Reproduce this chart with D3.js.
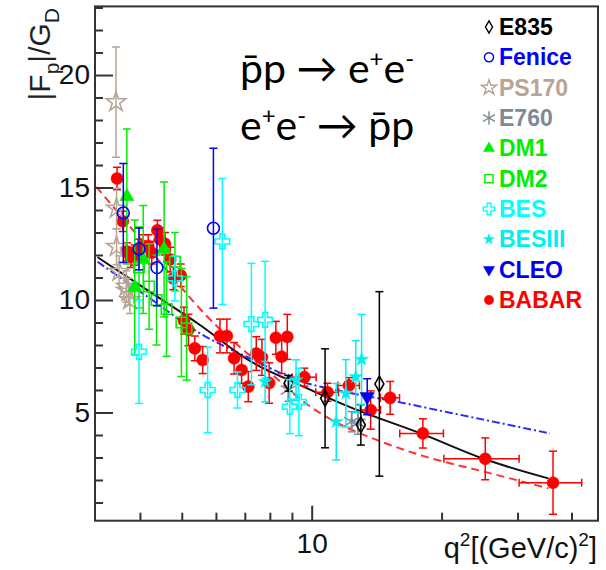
<!DOCTYPE html>
<html>
<head>
<meta charset="utf-8">
<script src="https://cdn.jsdelivr.net/npm/d3@7"></script>
<style>
  body { margin: 0; background: #fff; }
  svg { display: block; font-family: 'Liberation Sans', Arial, sans-serif; }
</style>
</head>
<body>
<div class="display"></div>
<script>
const width = 606;
const height = 570;
const margin = {top: 6.4, right: 8, bottom: 49.3, left: 95};

// points: [q2, |Fp|/GD, error]  (BABAR also has a q2 half-width)
const e835 = [[8.84, 6.3, 0.35], [10.74, 5.63, 2.2], [13.0, 4.45, 0.9], [14.35, 6.27, 4.1]];
const fenice = [[3.66, 13.87, 2.2], [3.98, 12.27, 0.93], [4.38, 11.44, 1.7], [5.92, 13.19, 3.55]];
const ps170 = [[3.52, 18.8, 2.45], [3.53, 14.07, 0.9], [3.53, 12.37, 0.8], [3.58, 11.26, 0.7], [3.72, 10.6, 0.7], [3.76, 10.37, 0.6], [3.79, 10.0, 0.6]];
const e760 = [[8.83, 6.0, 0.5], [12.38, 4.59, 0.45], [12.8, 4.53, 0.5]];
const dm1 = [[3.73, 14.6, 3.0], [3.89, 10.56, 3.0], [4.07, 11.8, 2.4], [4.55, 12.25, 3.0]];
const dm2 = [[3.98, 11.45, 1.8], [4.2, 10.6, 1.9], [4.37, 10.0, 2.0], [4.61, 9.6, 2.1], [4.82, 11.7, 1.3], [4.99, 9.0, 2.4], [5.13, 8.74, 2.3]];
const bes = [[3.98, 7.7, 2.3], [4.82, 10.96, 1.0], [5.74, 6.0, 1.9], [6.21, 12.6, 2.8], [6.73, 6.0, 0.8], [7.25, 8.93, 2.7], [7.8, 9.12, 2.6], [8.9, 5.26, 1.2], [9.34, 5.47, 1.5]];
const besiii = [[7.8, 6.37, 0.9], [9.2, 6.44, 0.9], [11.4, 4.59, 1.7], [12.0, 5.85, 1.5], [12.65, 6.59, 1.6], [13.05, 7.36, 2.0]];
const cleo = [[13.45, 5.7, 0.8]];
const babar = [
  [3.54, 15.4, 0.5, 0.02], [3.65, 13.5, 0.45, 0.03], [3.73, 12.15, 0.4, 0.03], [3.81, 11.9, 0.45, 0.03],
  [3.89, 12.0, 0.45, 0.03], [3.96, 12.2, 0.5, 0.03], [4.07, 12.4, 0.5, 0.04], [4.18, 12.4, 0.5, 0.04],
  [4.26, 12.1, 0.5, 0.04], [4.39, 13.1, 0.45, 0.05], [4.45, 12.7, 0.5, 0.05], [4.57, 12.5, 0.5, 0.05],
  [4.7, 11.8, 0.55, 0.05], [4.78, 10.96, 0.5, 0.05], [4.97, 11.1, 0.5, 0.06], [5.06, 9.08, 0.6, 0.06],
  [5.18, 8.67, 0.7, 0.08], [5.36, 7.85, 0.55, 0.1], [5.59, 7.33, 0.6, 0.1], [6.13, 8.4, 0.75, 0.12],
  [6.36, 8.4, 0.75, 0.12], [6.61, 7.41, 0.7, 0.13], [6.88, 6.89, 0.6, 0.13], [7.13, 6.15, 0.67, 0.13],
  [7.44, 7.62, 0.75, 0.14], [7.67, 7.45, 0.8, 0.14], [7.97, 6.31, 0.9, 0.14], [8.26, 8.32, 0.73, 0.15],
  [8.52, 7.48, 0.75, 0.15], [8.78, 8.36, 1.0, 0.15], [9.62, 6.57, 0.4, 0.62], [10.88, 5.9, 0.4, 0.66],
  [12.2, 6.2, 0.35, 0.7], [13.7, 5.11, 0.85, 0.74], [15.2, 5.65, 0.73, 0.78], [18.1, 4.07, 0.65, 2.1],
  [25.25, 2.94, 0.93, 5.0], [36.25, 1.88, 1.4, 6.0]
];

// fitted curves
const curveQ2 = {
  black: [3.19, 4.22, 5.51, 7.19, 9.4, 12.27, 18.07, 25.21, 35.35],
  red: [3.17, 4.22, 5.71, 8.22, 9.4, 11.84, 14.15, 18.11, 25.21, 35.35],
  blue: [3.19, 4.22, 5.51, 7.19, 9.4, 12.27, 16.02, 20.92, 27.32, 35.67]
};
const blackFit = [11.9, 10.36, 8.89, 7.29, 6.22, 5.24, 4.04, 2.92, 2.07];
const redFit = [15.03, 12.22, 9.29, 6.58, 5.6, 4.4, 3.78, 3.07, 2.36, 1.63];
const blueFit = [11.7, 10.07, 8.52, 7.41, 6.4, 5.87, 5.45, 4.99, 4.53, 4.07];

const xMajor = [10];
const xMinor = [4, 5, 6, 7, 8, 9, 20, 30, 40];
const yMajor = [5, 10, 15, 20];
const yMinor = d3.range(1, 24).filter(v => v % 5 !== 0);

const series = [
  {name: 'E835', color: '#000000', type: d3.symbolDiamond, size: 70, open: true, data: e835},
  {name: 'Fenice', color: '#0000ff', type: d3.symbolCircle, size: 110, open: true, data: fenice},
  {name: 'PS170', color: '#b8a494', type: d3.symbolStar, size: 120, open: true, data: ps170},
  {name: 'E760', color: '#7d8a98', type: d3.symbolAsterisk, size: 220, open: true, data: e760},
  {name: 'DM1', color: '#00ee00', type: d3.symbolTriangle, size: 90, open: false, data: dm1},
  {name: 'DM2', color: '#00ee00', type: d3.symbolSquare, size: 110, open: true, data: dm2},
  {name: 'BES', color: '#00ffff', type: d3.symbolCross, size: 120, open: true, data: bes},
  {name: 'BESIII', color: '#00f0f0', type: d3.symbolStar, size: 60, open: false, data: besiii},
  {name: 'CLEO', color: '#0000ee', type: d3.symbolTriangle, size: 90, open: false, flip: true, data: cleo},
  {name: 'BABAR', color: '#ff0000', type: d3.symbolCircle, size: 115, open: false, data: babar}
];

const svg = d3.select('.display')
  .append('svg')
  .attr('width', width)
  .attr('height', height);

const x = d3.scaleLog()
  .domain([3.147, 46.08])
  .range([margin.left, width - margin.right]);
const y = d3.scaleLinear()
  .domain([0.19, 23.05])
  .range([height - margin.bottom, margin.top]);

svg.append('clipPath').attr('id', 'plot')
  .append('rect')
  .attr('x', margin.left).attr('y', margin.top)
  .attr('width', width - margin.left - margin.right)
  .attr('height', height - margin.top - margin.bottom);

// curves
const line = d3.line().x(d => x(d[0])).y(d => y(d[1])).curve(d3.curveMonotoneX);
const curves = svg.append('g').attr('clip-path', 'url(#plot)').attr('fill', 'none');
curves.append('path')
  .attr('d', line(d3.zip(curveQ2.blue, blueFit)))
  .attr('stroke', '#2a2aff').attr('stroke-width', 2).attr('stroke-dasharray', '8,3,2,3');
curves.append('path')
  .attr('d', line(d3.zip(curveQ2.red, redFit)))
  .attr('stroke', '#ff3030').attr('stroke-width', 2).attr('stroke-dasharray', '8,5');
curves.append('path')
  .attr('d', line(d3.zip(curveQ2.black, blackFit)))
  .attr('stroke', '#111').attr('stroke-width', 2);

// data points
const drawOrder = ['BABAR', 'PS170', 'E760', 'E835', 'DM1', 'DM2', 'BES', 'BESIII', 'Fenice', 'CLEO'];
const points = svg.append('g').attr('clip-path', 'url(#plot)');
const cap = 4;

drawOrder.forEach(name => {
  const s = series.find(d => d.name === name);
  const g = points.append('g').attr('stroke', s.color).attr('stroke-width', 1.5);
  s.data.forEach(d => {
    const cx = x(d[0]);
    const cy = y(d[1]);
    const y1 = y(d[1] + d[2]);
    const y2 = y(d[1] - d[2]);
    g.append('line').attr('x1', cx).attr('x2', cx).attr('y1', y1).attr('y2', y2);
    g.append('line').attr('x1', cx - cap).attr('x2', cx + cap).attr('y1', y1).attr('y2', y1);
    g.append('line').attr('x1', cx - cap).attr('x2', cx + cap).attr('y1', y2).attr('y2', y2);
    if (d[3]) {
      const xa = x(d[0] - d[3]);
      const xb = x(d[0] + d[3]);
      g.append('line').attr('x1', xa).attr('x2', xb).attr('y1', cy).attr('y2', cy);
      g.append('line').attr('x1', xa).attr('x2', xa).attr('y1', cy - cap).attr('y2', cy + cap);
      g.append('line').attr('x1', xb).attr('x2', xb).attr('y1', cy - cap).attr('y2', cy + cap);
    }
  });
  g.selectAll('path.mark')
    .data(s.data)
    .enter()
    .append('path')
    .attr('class', 'mark')
    .attr('d', d3.symbol(s.type, s.size))
    .attr('transform', d => `translate(${x(d[0])},${y(d[1])})` + (s.flip ? ' rotate(180)' : ''))
    .attr('fill', s.open ? 'none' : s.color)
    .attr('stroke', s.color)
    .attr('stroke-width', s.open ? 1.6 : 0.5);
});

// axes
const axisColor = '#333';
function styleAxis(g) {
  g.select('.domain').remove();
  g.selectAll('.tick line').attr('stroke', axisColor).attr('stroke-width', 2);
  g.selectAll('.tick text').attr('fill', '#111').attr('font-size', 28).attr('font-family', 'Liberation Sans, Arial, sans-serif');
}

svg.append('g')
  .attr('transform', `translate(${margin.left},0)`)
  .call(d3.axisLeft(y).tickValues(yMinor).tickSizeInner(-8).tickSizeOuter(0).tickFormat(''))
  .call(styleAxis);
svg.append('g')
  .attr('transform', `translate(${margin.left},0)`)
  .call(d3.axisLeft(y).tickValues(yMajor).tickSizeInner(-18).tickSizeOuter(0).tickPadding(5).tickFormat(d3.format('d')))
  .call(styleAxis);
svg.append('g')
  .attr('transform', `translate(0,${height - margin.bottom})`)
  .call(d3.axisBottom(x).tickValues(xMinor).tickSizeInner(-8).tickSizeOuter(0).tickFormat(''))
  .call(styleAxis);
svg.append('g')
  .attr('transform', `translate(0,${height - margin.bottom})`)
  .call(d3.axisBottom(x).tickValues(xMajor).tickSizeInner(-15).tickSizeOuter(0).tickPadding(12).tickFormat(d3.format('d')))
  .call(styleAxis);

svg.append('rect')
  .attr('x', margin.left).attr('y', margin.top)
  .attr('width', width - margin.left - margin.right)
  .attr('height', height - margin.top - margin.bottom)
  .attr('fill', 'none').attr('stroke', axisColor).attr('stroke-width', 2);

// axis titles
const xt = svg.append('text')
  .attr('x', 597).attr('y', 558)
  .attr('text-anchor', 'end').attr('font-size', 29).attr('fill', '#111');
xt.append('tspan').text('q');
xt.append('tspan').attr('dy', -12).attr('font-size', 19).text('2');
xt.append('tspan').attr('dy', 12).text('[(GeV/c)');
xt.append('tspan').attr('dy', -12).attr('font-size', 19).text('2');
xt.append('tspan').attr('dy', 12).text(']');

const yt = svg.append('text')
  .attr('transform', 'translate(50,8) rotate(-90)')
  .attr('text-anchor', 'end').attr('font-size', 30).attr('fill', '#222');
yt.append('tspan').text('|F');
yt.append('tspan').attr('dy', 9).attr('font-size', 21).text('p');
yt.append('tspan').attr('dy', -9).text('|/G');
yt.append('tspan').attr('dy', 9).attr('font-size', 21).text('D');

// legend
const legendY = d3.scalePoint()
  .domain(series.map(s => s.name))
  .range([35, 308]);
const legend = svg.append('g');
series.forEach(s => {
  const ly = legendY(s.name);
  legend.append('path')
    .attr('d', d3.symbol(s.type, s.size * 0.6))
    .attr('transform', `translate(489,${ly - 8})` + (s.flip ? ' rotate(180)' : ''))
    .attr('fill', s.open ? 'none' : s.color)
    .attr('stroke', s.color)
    .attr('stroke-width', s.open ? 1.4 : 0.5);
  legend.append('text')
    .attr('x', 499).attr('y', ly)
    .attr('font-size', 23).attr('font-weight', 'bold')
    .attr('fill', s.color)
    .text(s.name);
});

// reaction labels
const reactions = svg.append('g')
  .attr('font-family', 'Lato, Liberation Sans, sans-serif')
  .attr('font-size', 41).attr('fill', '#000');
const r1 = reactions.append('text').attr('x', 240).attr('y', 83);
r1.append('tspan').text('p\u0304p \u2192 e');
r1.append('tspan').attr('dy', -16).attr('font-size', 24).text('+');
r1.append('tspan').attr('dy', 16).text('e');
r1.append('tspan').attr('dy', -16).attr('font-size', 24).text('-');
const r2 = reactions.append('text').attr('x', 240).attr('y', 140);
r2.append('tspan').text('e');
r2.append('tspan').attr('dy', -16).attr('font-size', 24).text('+');
r2.append('tspan').attr('dy', 16).text('e');
r2.append('tspan').attr('dy', -16).attr('font-size', 24).text('-');
r2.append('tspan').attr('dy', 16).text(' \u2192 p\u0304p');
</script>
</body>
</html>
